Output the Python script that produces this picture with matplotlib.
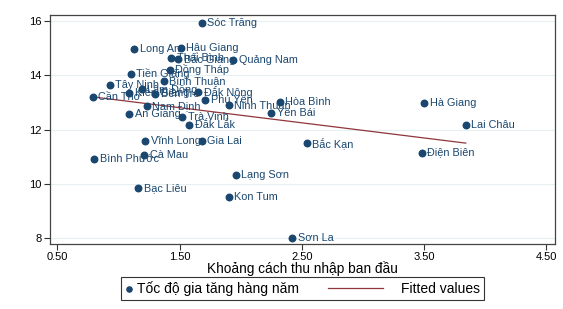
import numpy as np
import matplotlib.pyplot as plt
from matplotlib.legend_handler import HandlerLine2D

plt.rcParams['font.family'] = ['Liberation Sans', 'DejaVu Sans']

# provinces, initial income gap (x) and annual growth rate (y)
provinces = ['Sóc Trăng', 'Long An', 'Hậu Giang', 'Thái Bình', 'Bắc Giang', 'Quảng Nam',
             'Đồng Tháp', 'Tiền Giang', 'Bình Thuận', 'Tây Ninh', 'Cần Thơ', 'Kiên Giang',
             'Lâm Đồng', 'Bến Tre', 'Đắk Nông', 'Phú Yên', 'Ninh Thuận', 'Hòa Bình',
             'Yên Bái', 'Nam Định', 'An Giang', 'Trà Vinh', 'Đắk Lắk', 'Vĩnh Long',
             'Gia Lai', 'Cà Mau', 'Bình Phước', 'Bạc Liêu', 'Lạng Sơn', 'Kon Tum',
             'Sơn La', 'Bắc Kạn', 'Hà Giang', 'Lai Châu', 'Điện Biên']
gap = [1.68, 1.13, 1.51, 1.43, 1.49, 1.94,
       1.42, 1.10, 1.37, 0.93, 0.79, 1.09,
       1.19, 1.30, 1.65, 1.71, 1.90, 2.32,
       2.25, 1.23, 1.09, 1.52, 1.58, 1.22,
       1.68, 1.21, 0.80, 1.16, 1.96, 1.90,
       2.42, 2.54, 3.50, 3.84, 3.48]
growth = [15.92, 14.98, 15.00, 14.62, 14.59, 14.56,
          14.21, 14.05, 13.79, 13.65, 13.20, 13.36,
          13.48, 13.30, 13.40, 13.10, 12.91, 13.01,
          12.60, 12.88, 12.57, 12.46, 12.15, 11.59,
          11.56, 11.06, 10.90, 9.83, 10.32, 9.52,
          8.01, 11.49, 12.97, 12.17, 11.15]

navy = '#1a476f'
maroon = '#90353b'


# legend line that reaches back into the column gap (Stata style legend)
class LongLine(HandlerLine2D):
    def get_xdata(self, legend, xdescent, ydescent, width, height, fontsize):
        xd = np.array([-xdescent + width - 50, -xdescent + width - 10])
        return xd, xd


x = np.array(gap)
y = np.array(growth)
b, a = np.polyfit(x, y, 1)
xs = np.array([x.min(), x.max()])

fig = plt.figure(figsize=(5.63, 3.09), dpi=100)
ax = fig.add_axes([0.0888, 0.2104, 0.897, 0.741])

ax.scatter(x, y, s=22, color=navy, zorder=3, label='Tốc độ gia tăng hàng năm')
line, = ax.plot(xs, a + b * xs, color=maroon, lw=0.9, zorder=2, label='Fitted values')
for name, xi, yi in zip(provinces, gap, growth):
    ax.annotate(name, (xi, yi), xytext=(4, 0), textcoords='offset points',
                va='center', ha='left', fontsize=7.8, color=navy, zorder=4)

ax.set_xlim(0.44, 4.57)
ax.set_ylim(7.78, 16.22)
ax.set_xticks([0.5, 1.5, 2.5, 3.5, 4.5])
ax.set_xticklabels(['0.50', '1.50', '2.50', '3.50', '4.50'])
ax.set_yticks([8, 10, 12, 14, 16])
ax.grid(axis='y', color='#e6eff1', lw=0.8)
ax.set_axisbelow(True)
ax.tick_params(labelsize=8, length=4, width=0.8, color='#333333', pad=2)
for s in ax.spines.values():
    s.set_color('#444444')
    s.set_linewidth(0.9)
ax.set_xlabel('Khoảng cách thu nhập ban đầu', fontsize=9.8, labelpad=-1)

leg = fig.legend(loc='center', bbox_to_anchor=(0.537, 0.067), ncol=2, fontsize=10,
                 frameon=True, fancybox=False, edgecolor='black', markerscale=0.8,
                 handlelength=0.6, handletextpad=0.25, columnspacing=6.5,
                 borderpad=0.3, handler_map={line: LongLine()})
leg.get_frame().set_linewidth(0.8)

fig.savefig('out.png', dpi=100)
